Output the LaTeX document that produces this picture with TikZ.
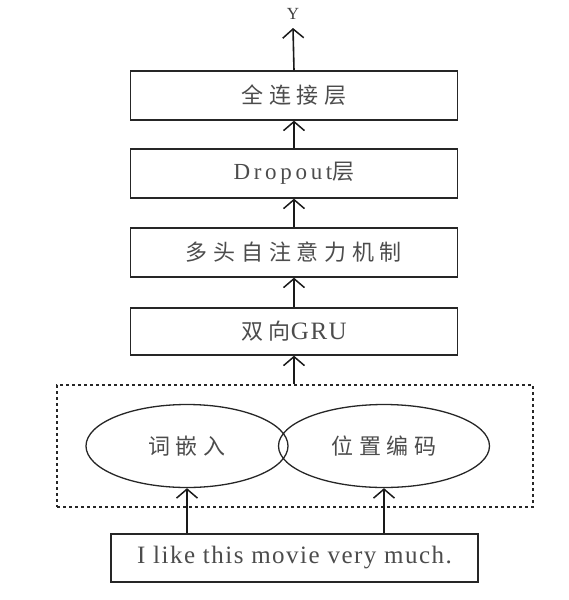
\documentclass[tikz,border=0pt]{standalone}
\usepackage{fontspec}
\usetikzlibrary{shapes.geometric,arrows.meta}
\setmainfont{Liberation Serif}
\newfontfamily\cjk[LetterSpace=26]{Noto Sans CJK SC}
\newfontfamily\latin[LetterSpace=6]{Liberation Serif}
\newfontfamily\latinw[LetterSpace=16]{Liberation Serif}
\newcommand{\cj}[1]{{\fontsize{22}{26}\cjk #1}}
\newcommand{\lt}[1]{{\fontsize{25}{28}\latin #1}}
\newcommand{\ltw}[1]{{\fontsize{23}{26}\latinw #1}}
\begin{document}
\begin{tikzpicture}[x=1pt,y=-1pt,
  layer/.style={draw=black!85,line width=1.3pt,minimum width=327pt,minimum height=49pt,inner sep=0pt,text=black!70},
  ell/.style={ellipse,draw=black!85,line width=1.3pt,minimum height=83pt,inner sep=0pt,text=black!70},
  arr/.style={line width=1.6pt,draw=black!90,-{Straight Barb[length=9pt,width=21pt,line width=1.5pt]}},
  dashbox/.style={draw=black!85,line width=1.1pt,dash pattern=on 3pt off 3pt,minimum width=476pt,minimum height=122pt,inner sep=0pt}]
\useasboundingbox (0,0) rectangle (568,600);
\node[layer] (b1) at (294,95.5) {\cj{全连接层}};
\node[layer] (b2) at (294,173.5) {\ltw{Dropout}\cj{层}};
\node[layer] (b3) at (294,252.5) {\cj{多头自注意力机制}};
\node[layer,minimum height=47pt] (b4) at (294,331.5) {\cj{双向}\lt{GRU}};
\node[dashbox] (emb) at (295,446) {};
\node[ell,minimum width=202pt] (e1) at (187,446) {\cj{词嵌入}};
\node[ell,minimum width=211pt] (e2) at (384,446) {\cj{位置编码}};
\node[layer,minimum width=367pt,minimum height=48pt] (in) at (294.5,558) {\lt{I like this movie very much.}};
\node[text=black!75,inner sep=0pt] (y) at (293,14) {\fontsize{17}{20}\selectfont Y};
\coordinate (ytip) at (293,28);
\draw[arr] (b1.north) -- (ytip);
\draw[arr] (b2.north) -- (b1.south);
\draw[arr] (b3.north) -- (b2.south);
\draw[arr] (b4.north) -- (b3.south);
\draw[arr] (emb.north -| b4.south) -- (b4.south);
\draw[arr] (in.north -| e1.south) -- (e1.south);
\draw[arr] (in.north -| e2.south) -- (e2.south);
\end{tikzpicture}
\end{document}
